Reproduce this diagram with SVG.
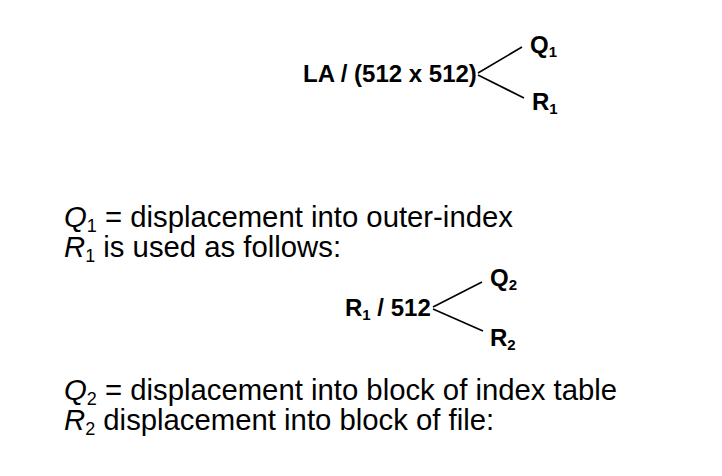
<svg xmlns="http://www.w3.org/2000/svg" width="722" height="476" viewBox="0 0 722 476">
<style>
.b{font-family:"Liberation Sans",Arial,sans-serif;font-weight:bold;font-size:24px;fill:#000}
.t{font-family:"Liberation Sans",Arial,sans-serif;font-size:29.3px;fill:#000}
.i{font-style:italic}
.sub{font-size:18px}
.bs{font-size:15px}
.ln{stroke:#000;stroke-width:1.6;fill:none}
</style>
<rect width="722" height="476" fill="#fff"/>
<g id="split1">
<text class="b" x="303" y="82">LA / (512 x 512)</text>
</g>
<g id="q1node"><text class="b" x="530" y="53">Q<tspan class="bs" dy="4">1</tspan></text></g>
<g id="r1node"><text class="b" x="532" y="110">R<tspan class="bs" dy="4">1</tspan></text></g>
<g id="split2">
<text class="b" x="345" y="316">R<tspan class="bs" dy="4">1</tspan><tspan dy="-4"> / 512</tspan></text>
</g>
<g id="q2node"><text class="b" x="490" y="286">Q<tspan class="bs" dy="4">2</tspan></text></g>
<g id="r2node"><text class="b" x="490" y="346">R<tspan class="bs" dy="4">2</tspan></text></g>
<g id="connectors">
<line class="ln" x1="478" y1="73" x2="522" y2="47"/>
<line class="ln" x1="478" y1="75" x2="524" y2="98"/>
<line class="ln" x1="433" y1="307" x2="482" y2="282"/>
<line class="ln" x1="433" y1="309" x2="483" y2="331"/>
</g>
<g id="notes">
<text class="t" x="64" y="227"><tspan class="i">Q</tspan><tspan class="sub" dy="5">1</tspan><tspan dy="-5"> = displacement into outer-index</tspan></text>
<text class="t" x="64" y="257"><tspan class="i">R</tspan><tspan class="sub" dy="5">1</tspan><tspan dy="-5"> is used as follows:</tspan></text>
<text class="t" x="64" y="400"><tspan class="i">Q</tspan><tspan class="sub" dy="5">2</tspan><tspan dy="-5"> = displacement into block of index table</tspan></text>
<text class="t" x="64" y="430"><tspan class="i">R</tspan><tspan class="sub" dy="5">2</tspan><tspan dy="-5"> displacement into block of file:</tspan></text>
</g>
</svg>
